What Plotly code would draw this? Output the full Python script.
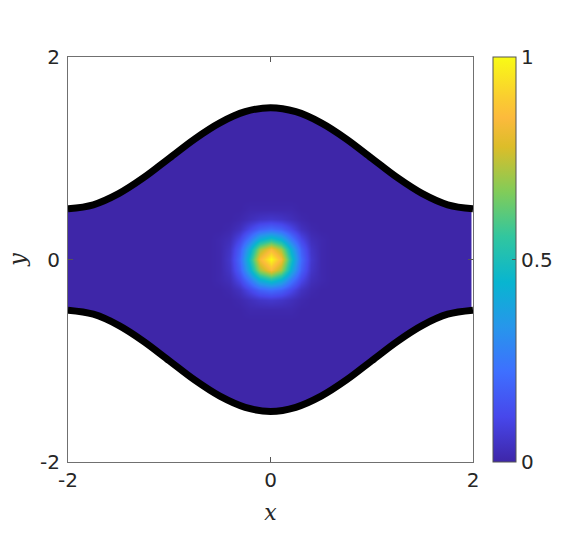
import plotly.graph_objects as go

# ---------------- data ----------------
# upper boundary of the channel (lower boundary is its mirror image)
bound_x = [-2.0, -1.75, -1.5, -1.25, -1.0, -0.75, -0.5, -0.25, 0.0,
           0.25, 0.5, 0.75, 1.0, 1.25, 1.5, 1.75, 2.0]
bound_y = [0.50, 0.54, 0.65, 0.81, 1.00, 1.19, 1.35, 1.46, 1.50,
           1.46, 1.35, 1.19, 1.00, 0.81, 0.65, 0.54, 0.50]

# quadrant of the bump values (x, y >= 0), mirrored to the full blob
core_pos = [0.0, 0.1, 0.2, 0.3, 0.4, 0.5, 0.6]
core_q = [
    [1.00, 0.84, 0.50, 0.21, 0.06, 0.01, 0.00],
    [0.84, 0.71, 0.42, 0.18, 0.05, 0.01, 0.00],
    [0.50, 0.42, 0.25, 0.11, 0.03, 0.01, 0.00],
    [0.21, 0.18, 0.11, 0.04, 0.01, 0.00, 0.00],
    [0.06, 0.05, 0.03, 0.01, 0.00, 0.00, 0.00],
    [0.01, 0.01, 0.01, 0.00, 0.00, 0.00, 0.00],
    [0.00, 0.00, 0.00, 0.00, 0.00, 0.00, 0.00],
]
x_limits = [-2.0, 2.0]
y_limits = [-1.5, 1.5]
field_right_end = 1.985        # the coloured field stops just short of x = 2
cbar_ticks = [0, 0.5, 1]
axis_ticks = [-2, 0, 2]

# ---------------- build the grid table ----------------
n = len(core_pos)
idx = list(range(n - 1, 0, -1)) + list(range(n))          # mirrored index order
gx = [x_limits[0]] + [(-core_pos[i] if k < n - 1 else core_pos[i]) for k, i in enumerate(idx)] + [x_limits[1]]
gy = [y_limits[0]] + [(-core_pos[i] if k < n - 1 else core_pos[i]) for k, i in enumerate(idx)] + [y_limits[1]]
zero_row = [0.0] * len(gx)
z = [zero_row[:]]
for j in idx:
    z.append([0.0] + [core_q[j][i] for i in idx] + [0.0])
z.append(zero_row[:])

parula = [
    [0.000, "rgb(62,38,168)"],
    [0.111, "rgb(71,71,235)"],
    [0.222, "rgb(62,111,255)"],
    [0.333, "rgb(39,150,235)"],
    [0.444, "rgb(8,181,208)"],
    [0.556, "rgb(49,198,159)"],
    [0.667, "rgb(129,204,89)"],
    [0.778, "rgb(220,189,41)"],
    [0.850, "rgb(252,186,60)"],
    [0.900, "rgb(250,205,48)"],
    [1.000, "rgb(249,251,21)"],
]

fig = go.Figure()
fig.add_trace(go.Heatmap(
    x=gx, y=gy, z=z, zmin=0, zmax=1, zsmooth="best",
    colorscale=parula, hoverinfo="skip",
    colorbar=dict(
        x=(493 - 68) / 405, xanchor="left", xpad=0, ypad=0,
        y=0.5, yanchor="middle", len=1.0, lenmode="fraction",
        thickness=23, thicknessmode="pixels",
        outlinewidth=1, outlinecolor="#555555",
        tickvals=cbar_ticks, ticktext=["0", "0.5", "1"],
        ticks="inside", ticklen=4, tickcolor="#555555",
        tickfont=dict(family="DejaVu Sans", size=20, color="#262626"),
    ),
))

# white masks outside the channel
top_line = [2.1] * len(bound_x)
bot_line = [-2.1] * len(bound_x)
lower_y = [-v for v in bound_y]
fig.add_trace(go.Scatter(x=bound_x, y=top_line, mode="lines", line=dict(width=0),
                         hoverinfo="skip", showlegend=False))
fig.add_trace(go.Scatter(x=bound_x, y=bound_y, mode="lines", line=dict(width=0, shape="spline"),
                         fill="tonexty", fillcolor="white", hoverinfo="skip", showlegend=False))
fig.add_trace(go.Scatter(x=bound_x, y=bot_line, mode="lines", line=dict(width=0),
                         hoverinfo="skip", showlegend=False))
fig.add_trace(go.Scatter(x=bound_x, y=lower_y, mode="lines", line=dict(width=0, shape="spline"),
                         fill="tonexty", fillcolor="white", hoverinfo="skip", showlegend=False))
# thin unpainted strip at the right end of the field
fig.add_trace(go.Scatter(
    x=[field_right_end, x_limits[1], x_limits[1], field_right_end],
    y=[-bound_y[-1], -bound_y[-1], bound_y[-1], bound_y[-1]],
    mode="lines", line=dict(width=0), fill="toself", fillcolor="white",
    hoverinfo="skip", showlegend=False))

# black channel walls
for yy in (bound_y, lower_y):
    fig.add_trace(go.Scatter(x=bound_x, y=yy, mode="lines",
                             line=dict(color="black", width=7, shape="spline"),
                             hoverinfo="skip", showlegend=False))

axis_common = dict(
    tickvals=axis_ticks, ticktext=["-2", "0", "2"],
    ticks="inside", ticklen=5, tickcolor="#555555",
    showline=True, linecolor="#707070", linewidth=1, mirror="ticks",
    showgrid=False, zeroline=False,
    tickfont=dict(family="DejaVu Sans", size=20, color="#262626"),
)
fig.update_xaxes(range=[-2, 2], **axis_common,
                 title=dict(text="<i>x</i>", font=dict(family="DejaVu Serif", size=22, color="#262626"),
                            standoff=13))
fig.update_yaxes(range=[-2, 2], **axis_common, ticklabelstandoff=3,
                 title=dict(text="<i>y</i>", font=dict(family="DejaVu Serif", size=22, color="#262626"),
                            standoff=8))

fig.update_layout(
    width=586, height=537,
    margin=dict(l=68, r=113, t=57, b=75),
    paper_bgcolor="white", plot_bgcolor="white",
    showlegend=False,
)

fig.write_html("out.html", config={"displayModeBar": False},
               post_script="document.body.style.margin='0';")
